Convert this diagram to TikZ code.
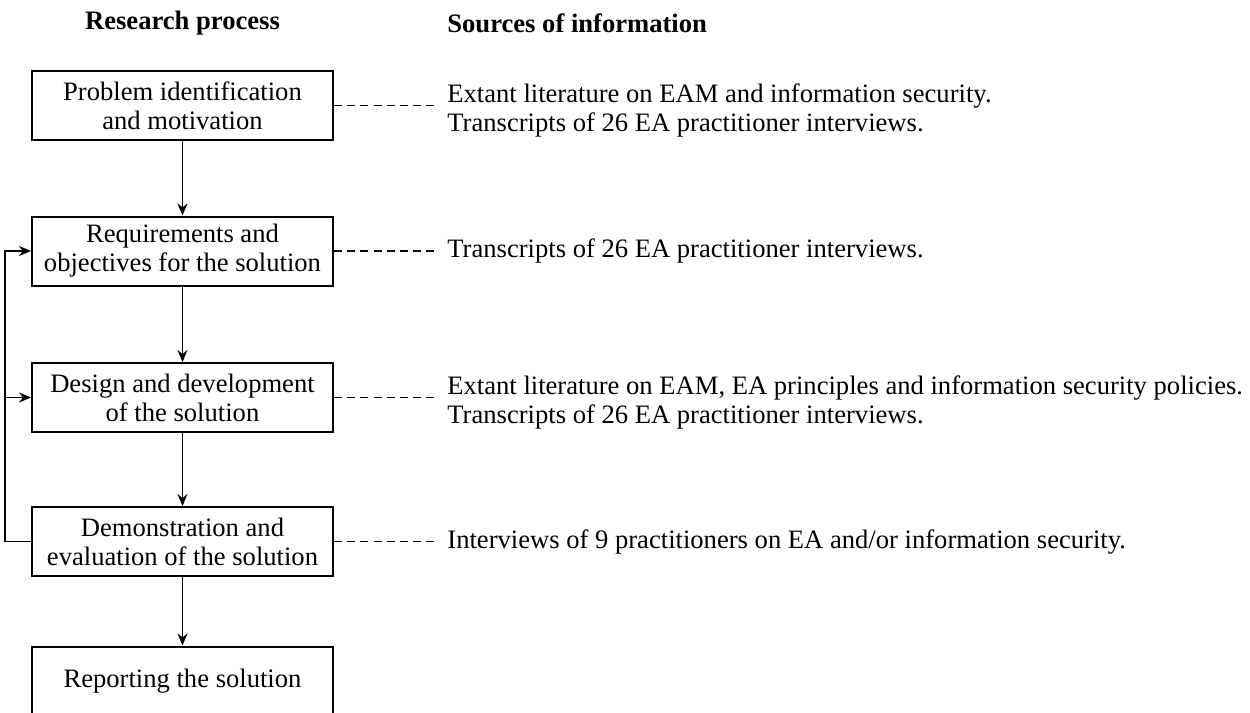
\documentclass[tikz,border=0pt]{standalone}
\usepackage{fontspec}
\setmainfont{Liberation Serif}
\usetikzlibrary{arrows.meta}

\tikzset{
	stage/.style={draw, line width=1pt, minimum width=150.5pt, minimum height=34.5pt, align=center, inner sep=2pt, font=\fontsize{13.3}{14.5}\selectfont},
	source/.style={anchor=west, align=left, inner sep=3pt, font=\fontsize{13.3}{14.5}\selectfont},
	head/.style={font=\fontsize{13.3}{14.5}\selectfont\bfseries},
	arr/.style={line width=0.9pt, -{Stealth[length=6pt,width=5pt]}},
	link/.style={line width=0.9pt, dash pattern=on 4pt off 2.6pt, shorten >=3pt}
}

\begin{document}
\begin{tikzpicture}[x=0.5pt,y=-0.5pt]
	
	\useasboundingbox (0,0) rectangle (1250,713);
	
	\node[head] (h1) at (182.5,23) {Research process};
	
	\node[head, anchor=west, inner sep=0pt] (h2) at (447,23) {Sources of information};
	
	\node[stage] (prob) at (182.5,105.5) {Problem identification\\and motivation};
	
	\node[stage] (req) at (182.5,251) {Requirements and\\objectives for the solution};
	
	\node[stage] (design) at (182.5,397.5) {Design and development\\of the solution};
	
	\node[stage] (demo) at (182.5,541.5) {Demonstration and\\evaluation of the solution};
	
	\node[stage] (report) at (182.5,681) {Reporting the solution};
	
	\node[source] (s1) at (441,110) {Extant literature on EAM and information security.\\Transcripts of 26 EA practitioner interviews.};
	
	\node[source] (s2) at (441,251) {Transcripts of 26 EA practitioner interviews.};
	
	\node[source] (s3) at (441,402) {Extant literature on EAM, EA principles and information security policies.\\Transcripts of 26 EA practitioner interviews.};
	
	\node[source] (s4) at (441,541.5) {Interviews of 9 practitioners on EA and/or information security.};
	
	\draw[arr] (prob) -- (req);
	\draw[arr] (req) -- (design);
	\draw[arr] (design) -- (demo);
	\draw[arr] (demo) -- (report);
	
	\draw[arr] (demo.west) -- ++(-26,0) coordinate (bend) |- (req.west);
	\draw[arr] (bend |- design.west) -- (design.west);
	
	\draw[link] (prob.east) -- (prob.east -| s1.west);
	\draw[link] (req.east) -- (s2.west);
	\draw[link] (design.east) -- (design.east -| s3.west);
	\draw[link] (demo.east) -- (s4.west);
	
\end{tikzpicture}
\end{document}
